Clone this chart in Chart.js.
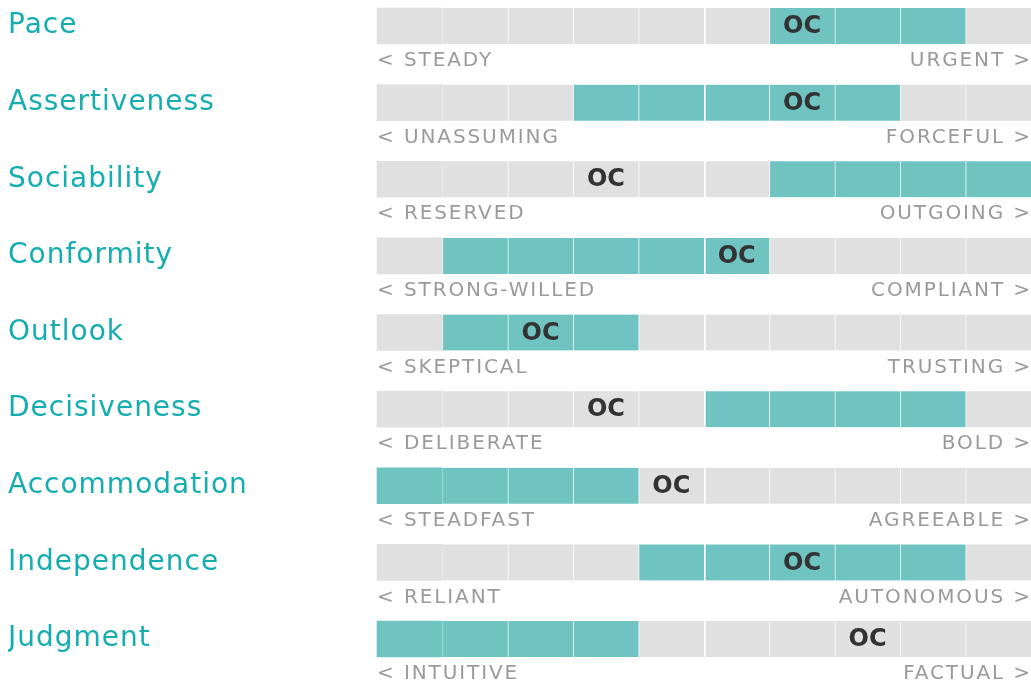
<!DOCTYPE html>
<html>
<head>
<meta charset="utf-8">
<script src="https://cdn.jsdelivr.net/npm/chart.js@4"></script>
<style>
  html, body { margin: 0; background: #fff; }
  #wrap { width: 1031px; height: 683px; position: relative; }
</style>
</head>
<body>
<div id="wrap"><canvas id="chart"></canvas></div>
<script>
const traits = ["Pace", "Assertiveness", "Sociability", "Conformity", "Outlook",
  "Decisiveness", "Accommodation", "Independence", "Judgment"];
const lowLabels = ["< STEADY", "< UNASSUMING", "< RESERVED", "< STRONG-WILLED", "< SKEPTICAL",
  "< DELIBERATE", "< STEADFAST", "< RELIANT", "< INTUITIVE"];
const highLabels = ["URGENT >", "FORCEFUL >", "OUTGOING >", "COMPLIANT >", "TRUSTING >",
  "BOLD >", "AGREEABLE >", "AUTONOMOUS >", "FACTUAL >"];
// teal range on a 0..10 scale
const rangeStart = [6, 3, 6, 1, 1, 5, 0, 4, 0];
const rangeEnd = [9, 8, 10, 6, 4, 9, 4, 9, 4];
// position of the "OC" marker
const ocPos = [6.5, 6.5, 3.5, 5.5, 2.5, 3.5, 4.5, 6.5, 7.5];
const ocLabel = "OC";
const segments = [0, 1, 2, 3, 4, 5, 6, 7, 8, 9];

const TEAL = "#6fc4c2";
const GRAY = "#e0e0e0";
const LABEL_TEAL = "#16adb1";
const SUB_GRAY = "#9a9a9a";
const FONT = "'DejaVu Sans', sans-serif";

const datasets = segments.map(i => ({
  data: traits.map(() => [i, i + 1]),
  backgroundColor: traits.map((_, r) => (i >= rangeStart[r] && i < rangeEnd[r]) ? TEAL : GRAY),
  borderColor: i === 5 ? "#ffffff" : "rgba(255,255,255,0.35)",
  borderWidth: { left: i === 0 ? 0 : (i === 5 ? 2 : 1), top: 0, right: 0, bottom: 0 },
  borderSkipped: false,
  barThickness: 36,
  grouped: false,
  clip: false
}));

const textPlugin = {
  id: "rowText",
  beforeDraw(chart) {
    chart.ctx.letterSpacing = "1px";
  },
  afterDatasetsDraw(chart) {
    const ctx = chart.ctx;
    const xs = chart.scales.x, ys = chart.scales.y;
    const area = chart.chartArea;
    ctx.save();
    traits.forEach((t, r) => {
      const y = ys.getPixelForValue(r);
      // OC marker
      ctx.font = "bold 24px " + FONT;
      ctx.fillStyle = "#333333";
      ctx.textAlign = "center";
      ctx.textBaseline = "middle";
      ctx.letterSpacing = "0px";
      ctx.fillText(ocLabel, xs.getPixelForValue(ocPos[r]), y + 1);
      // end labels
      ctx.font = "20px " + FONT;
      ctx.fillStyle = SUB_GRAY;
      ctx.letterSpacing = "1.9px";
      ctx.textAlign = "left";
      ctx.fillText(lowLabels[r], area.left, y + 35);
      ctx.textAlign = "right";
      ctx.fillText(highLabels[r], area.right + 1, y + 35);
    });
    ctx.restore();
  }
};

new Chart(document.getElementById("chart"), {
  type: "bar",
  data: { labels: traits, datasets },
  options: {
    indexAxis: "y",
    responsive: true,
    maintainAspectRatio: false,
    animation: false,
    layout: { padding: { left: 8, top: 26, bottom: 44, right: 0 } },
    plugins: { legend: { display: false }, tooltip: { enabled: false } },
    scales: {
      x: { type: "linear", min: 0, max: 10, display: false },
      y: {
        type: "category",
        offset: false,
        grid: { display: false },
        border: { display: false },
        ticks: { crossAlign: "far", color: LABEL_TEAL, padding: 0, font: { family: FONT, size: 28 } },
        afterFit(scale) { scale.width = 369; }
      }
    }
  },
  plugins: [textPlugin]
});
</script>
</body>
</html>
